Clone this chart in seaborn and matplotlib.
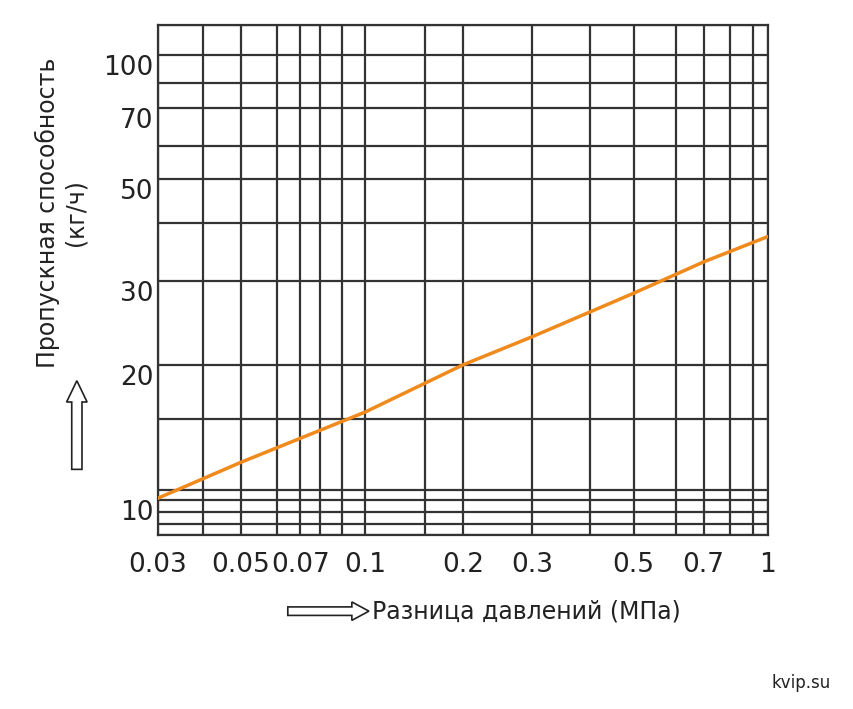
import numpy as np
import matplotlib
matplotlib.use("Agg")
import matplotlib.pyplot as plt
import seaborn as sns
from matplotlib.patches import FancyArrow

# data
pressure = [0.03, 0.05, 0.07, 0.1, 0.2, 0.3, 0.5, 0.7, 1.0]
capacity = [10.2, 12.4, 13.8, 15.6, 20.0, 22.9, 28.3, 33.0, 37.4]
x_ticks = [0.03, 0.05, 0.07, 0.1, 0.2, 0.3, 0.5, 0.7, 1]
x_ticklabels = ["0.03", "0.05", "0.07", "0.1", "0.2", "0.3", "0.5", "0.7", "1"]
y_ticks = [10, 20, 30, 50, 70, 100]
y_ticklabels = ["10", "20", "30", "50", "70", "100"]
x_grid = [0.03, 0.04, 0.05, 0.06, 0.07, 0.08, 0.09, 0.1, 0.15, 0.2, 0.3, 0.4, 0.5, 0.6, 0.7, 0.8, 0.9, 1.0]
y_grid = [8.5, 9, 9.5, 10, 11, 15, 20, 30, 40, 50, 60, 70, 80, 100, 110]

# chart's own (non-uniform) printed scale
xv_map = np.log10(x_grid)
xp_map = np.array([90, 197, 287, 373, 430, 476, 528, 585, 727, 818, 982, 1120, 1225, 1325, 1392, 1455, 1510, 1545], float)
yv_map = np.log10(y_grid)
yp_map = -np.array([1415, 1385, 1352, 1320, 1290, 1097, 947, 717, 557, 435, 345, 242, 172, 95, 12], float)

def xf(v): return np.interp(np.log10(np.clip(v, 1e-6, None)), xv_map, xp_map)
def xi(p): return 10 ** np.interp(p, xp_map, xv_map)
def yf(v): return np.interp(np.log10(np.clip(v, 1e-6, None)), yv_map, yp_map)
def yi(p): return 10 ** np.interp(p, yp_map, yv_map)

sns.set_style("white")
plt.rcParams['font.family'] = ['DejaVu Sans']
fig = plt.figure(figsize=(8.54, 7.09), dpi=100)
ax = fig.add_axes([0.185, 0.2454, 0.714, 0.7196])
ax.set_xscale('function', functions=(xf, xi))
ax.set_yscale('function', functions=(yf, yi))
ax.set_xlim(0.03, 1.0)
ax.set_ylim(8.5, 110)

for g in x_grid:
    ax.axvline(g, color='#333333', lw=1.6, zorder=1)
for g in y_grid:
    ax.axhline(g, color='#333333', lw=1.6, zorder=1)

sns.lineplot(x=pressure, y=capacity, ax=ax, color='#f08a1c', lw=2.5, zorder=3)

ax.set_xticks(x_ticks)
ax.set_xticklabels(x_ticklabels)
ax.set_yticks(y_ticks)
ax.set_yticklabels(y_ticklabels)
ax.minorticks_off()
ax.tick_params(axis='both', length=0, labelsize=19, colors='#222222')
ax.tick_params(axis='x', pad=12)
ax.tick_params(axis='y', pad=3)
for lab in ax.get_yticklabels():
    lab.set_verticalalignment('top')
for s in ax.spines.values():
    s.set_color('#333333'); s.set_linewidth(1.6)

fig.text(0.072, 0.70, "Пропускная способность\n(кг/ч)", rotation=90, ha='center', va='center',
         fontsize=17, color='#222222', linespacing=1.2)
fig.text(0.436, 0.137, "Разница давлений (МПа)", ha='left', va='center', fontsize=17, color='#222222')
fig.text(0.973, 0.036, "kvip.su", ha='right', va='center', fontsize=12, color='#222222')

fig.patches.append(FancyArrow(0.09, 0.338, 0, 0.095, width=0.012, head_width=0.024, head_length=0.03,
                              transform=fig.transFigure, facecolor='white', edgecolor='#222222', lw=1.2))
fig.patches.append(FancyArrow(0.337, 0.138, 0.075, 0, width=0.012, head_width=0.026, head_length=0.02,
                              transform=fig.transFigure, facecolor='white', edgecolor='#222222', lw=1.2))

fig.savefig("out.png", dpi=100)
